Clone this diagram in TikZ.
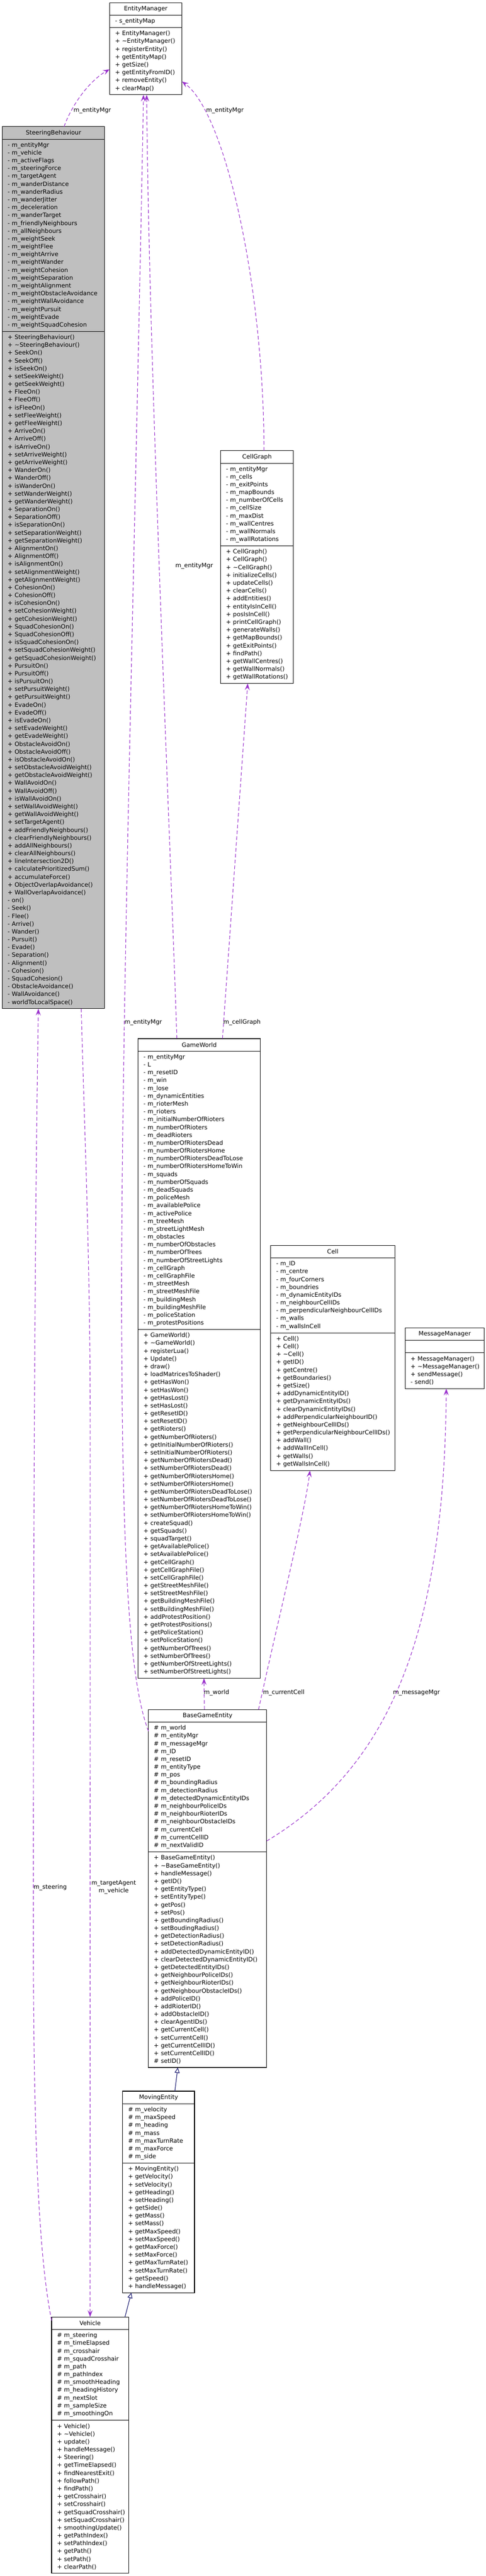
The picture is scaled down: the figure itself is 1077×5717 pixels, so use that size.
\documentclass[tikz,border=0pt]{standalone}
\usepackage{fontspec}
\setmainfont{DejaVu Sans}
\usetikzlibrary{arrows.meta,positioning}
\definecolor{usagepurple}{HTML}{9A32CD}
\definecolor{inheritblue}{HTML}{191970}
\definecolor{steergrey}{HTML}{BFBFBF}
\lefthyphenmin=62
\righthyphenmin=62

\begin{document}
\catcode`\_=12
\begin{tikzpicture}
  [
    x=1pt,y=-1pt,
    >={Stealth[length=15pt,width=11pt,inset=6pt]},
    every node/.style={font=\fontsize{13.2}{17.36}\selectfont,outer sep=0pt},
    class head/.style={draw,line width=1.3pt,fill=white,anchor=north west,inner sep=0pt,minimum height=28pt,minimum width=#1},
    class body/.style={draw,line width=1.3pt,fill=white,align=left,inner xsep=12pt,inner ysep=0pt,minimum height=#1},
    uses/.style={draw=usagepurple,line width=1.3pt,dash pattern=on 8pt off 5pt,->},
    extends/.style={draw=inheritblue,line width=1.3pt,-{Triangle[open,length=12pt,width=11pt]}},
    edge text/.style={inner sep=0pt,anchor=west},
  ]
  \useasboundingbox (0,0) rectangle (1077,5717);

  % EntityManager
  \node [class head=160pt] (manager) at (243,6) {EntityManager};
  \node [class body=27.36pt,text width=136pt,below=0pt of manager] (manager attr) {-~s_entityMap};
  \node [class body=148.88pt,text width=136pt,below=0pt of manager attr] (manager ops)
    {+~EntityManager()\\+~\textasciitilde EntityManager()\\+~registerEntity()\\+~getEntityMap()\\
     +~getSize()\\+~getEntityFromID()\\+~removeEntity()\\+~clearMap()};

  % SteeringBehaviour
  \node [class head=227pt,fill=steergrey] (steering) at (5,281) {SteeringBehaviour};
  \node [class body=426.64pt,text width=203pt,fill=steergrey,below=0pt of steering] (steering attr)
    {-~m_entityMgr\\-~m_vehicle\\-~m_activeFlags\\-~m_steeringForce\\-~m_targetAgent\\
     -~m_wanderDistance\\-~m_wanderRadius\\-~m_wanderJitter\\-~m_deceleration\\-~m_wanderTarget\\
     -~m_friendlyNeighbours\\-~m_allNeighbours\\-~m_weightSeek\\-~m_weightFlee\\-~m_weightArrive\\
     -~m_weightWander\\-~m_weightCohesion\\-~m_weightSeparation\\-~m_weightAlignment\\
     -~m_weightObstacleAvoidance\\-~m_weightWallAvoidance\\-~m_weightPursuit\\-~m_weightEvade\\
     -~m_weightSquadCohesion};
  \node [class body=1502.96pt,text width=203pt,fill=steergrey,below=0pt of steering attr] (steering ops)
    {+~SteeringBehaviour()\\+~\textasciitilde SteeringBehaviour()\\
     +~SeekOn()\\+~SeekOff()\\+~isSeekOn()\\+~setSeekWeight()\\+~getSeekWeight()\\
     +~FleeOn()\\+~FleeOff()\\+~isFleeOn()\\+~setFleeWeight()\\+~getFleeWeight()\\
     +~ArriveOn()\\+~ArriveOff()\\+~isArriveOn()\\+~setArriveWeight()\\+~getArriveWeight()\\
     +~WanderOn()\\+~WanderOff()\\+~isWanderOn()\\+~setWanderWeight()\\+~getWanderWeight()\\
     +~SeparationOn()\\+~SeparationOff()\\+~isSeparationOn()\\+~setSeparationWeight()\\+~getSeparationWeight()\\
     +~AlignmentOn()\\+~AlignmentOff()\\+~isAlignmentOn()\\+~setAlignmentWeight()\\+~getAlignmentWeight()\\
     +~CohesionOn()\\+~CohesionOff()\\+~isCohesionOn()\\+~setCohesionWeight()\\+~getCohesionWeight()\\
     +~SquadCohesionOn()\\+~SquadCohesionOff()\\+~isSquadCohesionOn()\\+~setSquadCohesionWeight()\\+~getSquadCohesionWeight()\\
     +~PursuitOn()\\+~PursuitOff()\\+~isPursuitOn()\\+~setPursuitWeight()\\+~getPursuitWeight()\\
     +~EvadeOn()\\+~EvadeOff()\\+~isEvadeOn()\\+~setEvadeWeight()\\+~getEvadeWeight()\\
     +~ObstacleAvoidOn()\\+~ObstacleAvoidOff()\\+~isObstacleAvoidOn()\\+~setObstacleAvoidWeight()\\+~getObstacleAvoidWeight()\\
     +~WallAvoidOn()\\+~WallAvoidOff()\\+~isWallAvoidOn()\\+~setWallAvoidWeight()\\+~getWallAvoidWeight()\\
     +~setTargetAgent()\\+~addFriendlyNeighbours()\\+~clearFriendlyNeighbours()\\+~addAllNeighbours()\\
     +~clearAllNeighbours()\\+~lineIntersection2D()\\+~calculatePrioritizedSum()\\+~accumulateForce()\\
     +~ObjectOverlapAvoidance()\\+~WallOverlapAvoidance()\\
     -~on()\\-~Seek()\\-~Flee()\\-~Arrive()\\-~Wander()\\-~Pursuit()\\-~Evade()\\-~Separation()\\
     -~Alignment()\\-~Cohesion()\\-~SquadCohesion()\\-~ObstacleAvoidance()\\-~WallAvoidance()\\
     -~worldToLocalSpace()};

  % CellGraph
  \node [class head=161pt] (cell graph) at (489,1000) {CellGraph};
  \node [class body=183.6pt,text width=137pt,below=0pt of cell graph] (cell graph attr)
    {-~m_entityMgr\\-~m_cells\\-~m_exitPoints\\-~m_mapBounds\\-~m_numberOfCells\\-~m_cellSize\\
     -~m_maxDist\\-~m_wallCentres\\-~m_wallNormals\\-~m_wallRotations};
  \node [class body=305.12pt,text width=137pt,below=0pt of cell graph attr] (cell graph ops)
    {+~CellGraph()\\+~CellGraph()\\+~\textasciitilde CellGraph()\\+~initializeCells()\\+~updateCells()\\
     +~clearCells()\\+~addEntities()\\+~entityIsInCell()\\+~posIsInCell()\\+~printCellGraph()\\
     +~generateWalls()\\+~getMapBounds()\\+~getExitPoints()\\+~findPath()\\+~getWallCentres()\\
     +~getWallNormals()\\+~getWallRotations()};

  % GameWorld
  \node [class head=271pt] (world) at (306,2305) {GameWorld};
  \node [class body=617.6pt,text width=247pt,below=0pt of world] (world attr)
    {-~m_entityMgr\\-~L\\-~m_resetID\\-~m_win\\-~m_lose\\-~m_dynamicEntities\\-~m_rioterMesh\\
     -~m_rioters\\-~m_initialNumberOfRioters\\-~m_numberOfRioters\\-~m_deadRioters\\
     -~m_numberOfRiotersDead\\-~m_numberOfRiotersHome\\-~m_numberOfRiotersDeadToLose\\
     -~m_numberOfRiotersHomeToWin\\-~m_squads\\-~m_numberOfSquads\\-~m_deadSquads\\-~m_policeMesh\\
     -~m_availablePolice\\-~m_activePolice\\-~m_treeMesh\\-~m_streetLightMesh\\-~m_obstacles\\
     -~m_numberOfObstacles\\-~m_numberOfTrees\\-~m_numberOfStreetLights\\-~m_cellGraph\\
     -~m_cellGraphFile\\-~m_streetMesh\\-~m_streetMeshFile\\-~m_buildingMesh\\-~m_buildingMeshFile\\
     -~m_policeStation\\-~m_protestPositions};
  \node [class body=773.84pt,text width=247pt,below=0pt of world attr] (world ops)
    {+~GameWorld()\\+~\textasciitilde GameWorld()\\+~registerLua()\\+~Update()\\+~draw()\\
     +~loadMatricesToShader()\\+~getHasWon()\\+~setHasWon()\\+~getHasLost()\\+~setHasLost()\\
     +~getResetID()\\+~setResetID()\\+~getRioters()\\+~getNumberOfRioters()\\
     +~getInitialNumberOfRioters()\\+~setInitialNumberOfRioters()\\+~getNumberOfRiotersDead()\\
     +~setNumberOfRiotersDead()\\+~getNumberOfRiotersHome()\\+~setNumberOfRiotersHome()\\
     +~getNumberOfRiotersDeadToLose()\\+~setNumberOfRiotersDeadToLose()\\
     +~getNumberOfRiotersHomeToWin()\\+~setNumberOfRiotersHomeToWin()\\+~createSquad()\\
     +~getSquads()\\+~squadTarget()\\+~getAvailablePolice()\\+~setAvailablePolice()\\
     +~getCellGraph()\\+~getCellGraphFile()\\+~setCellGraphFile()\\+~getStreetMeshFile()\\
     +~setStreetMeshFile()\\+~getBuildingMeshFile()\\+~setBuildingMeshFile()\\
     +~addProtestPosition()\\+~getProtestPositions()\\+~getPoliceStation()\\+~setPoliceStation()\\
     +~getNumberOfTrees()\\+~setNumberOfTrees()\\+~getNumberOfStreetLights()\\
     +~setNumberOfStreetLights()};

  % Cell
  \node [class head=275pt] (cell) at (600,2764) {Cell};
  \node [class body=166.24pt,text width=251pt,below=0pt of cell] (cell attr)
    {-~m_ID\\-~m_centre\\-~m_fourCorners\\-~m_boundries\\-~m_dynamicEntityIDs\\
     -~m_neighbourCellIDs\\-~m_perpendicularNeighbourCellIDs\\-~m_walls\\-~m_wallsInCell};
  \node [class body=305.12pt,text width=251pt,below=0pt of cell attr] (cell ops)
    {+~Cell()\\+~Cell()\\+~\textasciitilde Cell()\\+~getID()\\+~getCentre()\\+~getBoundaries()\\
     +~getSize()\\+~addDynamicEntityID()\\+~getDynamicEntityIDs()\\+~clearDynamicEntityIDs()\\
     +~addPerpendicularNeighbourID()\\+~getNeighbourCellIDs()\\
     +~getPerpendicularNeighbourCellIDs()\\+~addWall()\\+~addWallInCell()\\+~getWalls()\\
     +~getWallsInCell()};

  % MessageManager
  \node [class head=175pt] (messages) at (898,2947) {MessageManager};
  \node [class body=27.36pt,text width=151pt,below=0pt of messages] (messages attr) {};
  \node [class body=79.44pt,text width=151pt,below=0pt of messages attr] (messages ops)
    {+~MessageManager()\\+~\textasciitilde MessageManager()\\+~sendMessage()\\-~send()};

  % BaseGameEntity
  \node [class head=262pt] (base entity) at (329,3794) {BaseGameEntity};
  \node [class body=287.76pt,text width=238pt,below=0pt of base entity] (base entity attr)
    {\#~m_world\\\#~m_entityMgr\\\#~m_messageMgr\\\#~m_ID\\\#~m_resetID\\\#~m_entityType\\
     \#~m_pos\\\#~m_boundingRadius\\\#~m_detectionRadius\\\#~m_detectedDynamicEntityIDs\\
     \#~m_neighbourPoliceIDs\\\#~m_neighbourRioterIDs\\\#~m_neighbourObstacleIDs\\
     \#~m_currentCell\\\#~m_currentCellID\\\#~m_nextValidID};
  \node [class body=478.72pt,text width=238pt,below=0pt of base entity attr] (base entity ops)
    {+~BaseGameEntity()\\+~\textasciitilde BaseGameEntity()\\+~handleMessage()\\+~getID()\\
     +~getEntityType()\\+~setEntityType()\\+~getPos()\\+~setPos()\\+~getBoundingRadius()\\
     +~setBoudingRadius()\\+~getDetectionRadius()\\+~setDetectionRadius()\\
     +~addDetectedDynamicEntityID()\\+~clearDetectedDynamicEntityID()\\+~getDetectedEntityIDs()\\
     +~getNeighbourPoliceIDs()\\+~getNeighbourRioterIDs()\\+~getNeighbourObstacleIDs()\\
     +~addPoliceID()\\+~addRioterID()\\+~addObstacleID()\\+~clearAgentIDs()\\+~getCurrentCell()\\
     +~setCurrentCell()\\+~getCurrentCellID()\\+~setCurrentCellID()\\\#~setID()};

  % MovingEntity
  \node [class head=159pt] (moving) at (272,4641) {MovingEntity};
  \node [class body=131.52pt,text width=135pt,below=0pt of moving] (moving attr)
    {\#~m_velocity\\\#~m_maxSpeed\\\#~m_heading\\\#~m_mass\\\#~m_maxTurnRate\\\#~m_maxForce\\
     \#~m_side};
  \node [class body=287.76pt,text width=135pt,below=0pt of moving attr] (moving ops)
    {+~MovingEntity()\\+~getVelocity()\\+~setVelocity()\\+~getHeading()\\+~setHeading()\\
     +~getSide()\\+~getMass()\\+~setMass()\\+~getMaxSpeed()\\+~setMaxSpeed()\\+~getMaxForce()\\
     +~setMaxForce()\\+~getMaxTurnRate()\\+~setMaxTurnRate()\\+~getSpeed()\\+~handleMessage()};

  % Vehicle
  \node [class head=170.6pt] (vehicle) at (114.4,5142) {Vehicle};
  \node [class body=200.96pt,text width=146.6pt,below=0pt of vehicle] (vehicle attr)
    {\#~m_steering\\\#~m_timeElapsed\\\#~m_crosshair\\\#~m_squadCrosshair\\\#~m_path\\
     \#~m_pathIndex\\\#~m_smoothHeading\\\#~m_headingHistory\\\#~m_nextSlot\\\#~m_sampleSize\\
     \#~m_smoothingOn};
  \node [class body=339.84pt,text width=146.6pt,below=0pt of vehicle attr] (vehicle ops)
    {+~Vehicle()\\+~\textasciitilde Vehicle()\\+~update()\\+~handleMessage()\\+~Steering()\\
     +~getTimeElapsed()\\+~findNearestExit()\\+~followPath()\\+~findPath()\\+~getCrosshair()\\
     +~setCrosshair()\\+~getSquadCrosshair()\\+~setSquadCrosshair()\\+~smoothingUpdate()\\
     +~getPathIndex()\\+~setPathIndex()\\+~getPath()\\+~setPath()\\+~clearPath()};

  % labels
  \node [edge text] (steering mgr text) at (163,245) {m_entityMgr};
  \node [edge text] (graph mgr text) at (457,245) {m_entityMgr};
  \node [edge text] (world mgr text) at (389,1256) {m_entityMgr};
  \node [edge text] (entity mgr text) at (276,2269) {m_entityMgr};
  \node [edge text] (graph text) at (495,2269) {m_cellGraph};
  \node [edge text] (world text) at (452,3757) {m_world};
  \node [edge text] (cell text) at (583,3757) {m_currentCell};
  \node [edge text] (messages text) at (871,3757) {m_messageMgr};
  \node [edge text] (steering text) at (74.5,4189) {m_steering};
  \node [inner sep=0pt,align=center] (vehicle text) at (252,4188.5) {m_targetAgent\\m_vehicle};

  % usage
  \draw [uses] ([xshift=23.5pt]steering.north) .. controls (160,230) and (200,178) .. ([yshift=-18pt]manager ops.west);
  \draw [uses] ([xshift=15.5pt]cell graph.north) .. controls (585,640) and (500,250) .. ([yshift=-45pt]manager ops.east);
  \draw [uses] ([xshift=-49.5pt]world.north) .. controls (375,1800) and (330,800) .. ([xshift=2pt]manager ops.south);
  \coordinate (entity bend) at (270,3000);
  \draw [uses] ([yshift=-20pt]base entity attr.north west) .. controls (290,3740) and (272,3500) .. (entity bend)
    .. controls (265,2400) and (300,1200) .. ([xshift=-5pt]manager ops.south);
  \draw [uses] ([xshift=51.5pt]world.north) -- ([xshift=-20.5pt]cell graph ops.south);
  \draw [uses] ([xshift=-7pt]base entity.north) -- ([xshift=10.5pt]world ops.south);
  \draw [uses] ([xshift=113pt]base entity.north) .. controls (615,3600) and (675,3360) .. ([xshift=-50.5pt]cell ops.south);
  \draw [uses] ([yshift=24pt]base entity attr.south east) .. controls (850,3930) and (985,3650) .. ([xshift=3.5pt]messages ops.south);
  \coordinate (steering bend) at (74,4300);
  \draw [uses] ([yshift=-8pt]vehicle.north west) .. controls (90,5030) and (74,4800) .. (steering bend)
    .. controls (74,3500) and (76,2800) .. ([xshift=-33.5pt]steering ops.south);
  \coordinate (vehicle bend) at (200,3200);
  \draw [uses] ([xshift=61.5pt]steering ops.south) .. controls (190,2600) and (200,2800) .. (vehicle bend) -- (vehicle.north);

  % inheritance
  \draw [extends] ([xshift=77.3pt]vehicle.north) -- ([xshift=-60.5pt]moving ops.south);
  \draw [extends] ([xshift=36pt]moving.north) -- ([xshift=-66pt]base entity ops.south);

\end{tikzpicture}
\end{document}
